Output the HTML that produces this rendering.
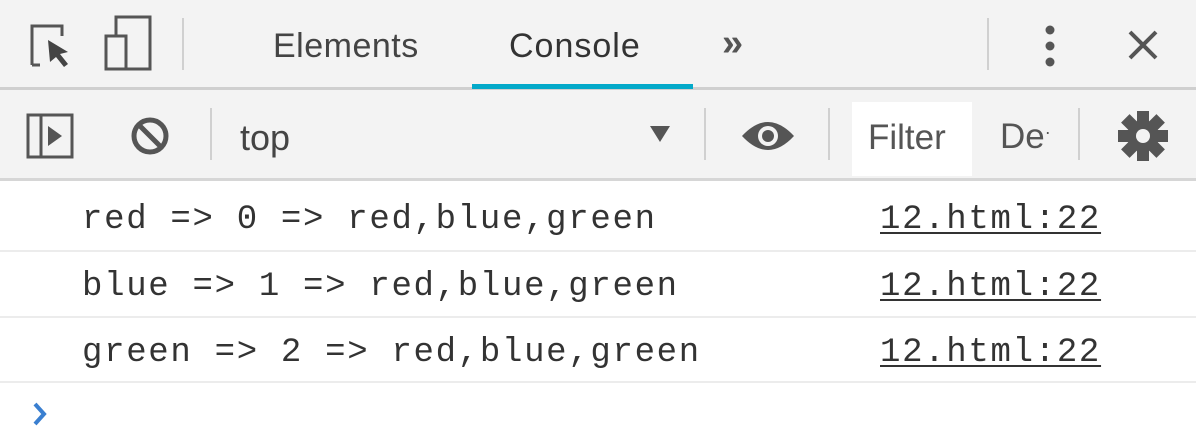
<!DOCTYPE html>
<html><head><meta charset="utf-8"><style>
html,body{margin:0;padding:0;width:1196px;height:441px;overflow:hidden;background:#fff;font-family:"Liberation Sans",sans-serif;}
.a{position:absolute;}
.tb{background:#f3f3f3;left:0;width:1196px;}
.sep{position:absolute;width:2px;background:#d0d0d0;}
.mono{font-family:"Liberation Mono",monospace;font-size:34px;letter-spacing:1.7px;color:#333;position:absolute;line-height:40px;}
.link{text-decoration:underline;text-decoration-thickness:2px;text-underline-offset:4px;}
.hr{position:absolute;left:0;width:1196px;height:2px;background:#ececec;}
</style></head><body>
<div class="a tb" style="top:0;height:87px;"></div>
<div class="a" style="top:87px;left:0;width:1196px;height:3px;background:#cfcfcf;"></div>
<div class="a tb" style="top:90px;height:88px;"></div>
<div class="a" style="top:178px;left:0;width:1196px;height:3px;background:#d6d6d6;"></div>

<svg class="a" style="left:28px;top:22px" width="60" height="50" viewBox="0 0 60 50">
<path d="M4 43 V4 H34 V14" fill="none" stroke="#555" stroke-width="3"/>
<path d="M4 43 H12" stroke="#555" stroke-width="3"/>
<path d="M20 18 L40 30 L32 32 L40 42 L36 45 L28 35 L22 40 Z" fill="#444"/>
</svg>
<svg class="a" style="left:102px;top:14px" width="52" height="58" viewBox="0 0 52 58">
<rect x="14" y="3" width="34" height="52" fill="none" stroke="#555" stroke-width="3"/>
<rect x="4" y="22" width="20" height="33" fill="#f3f3f3" stroke="#555" stroke-width="3"/>
</svg>
<div class="sep" style="left:182px;top:18px;height:52px;"></div>
<div class="a" style="left:273px;top:27px;font-size:34px;color:#444;letter-spacing:0.5px;">Elements</div>
<div class="a" style="left:509px;top:27px;font-size:34px;color:#333;letter-spacing:1px;">Console</div>
<div class="a" style="left:472px;top:84px;width:221px;height:5px;background:#03a9c9;"></div>
<div class="a" style="left:722px;top:22px;font-size:38px;color:#555;font-weight:bold;">»</div>
<div class="sep" style="left:987px;top:18px;height:52px;"></div>
<svg class="a" style="left:1040px;top:22px" width="20" height="48"><circle cx="10" cy="8" r="4.5" fill="#555"/><circle cx="10" cy="24" r="4.5" fill="#555"/><circle cx="10" cy="40" r="4.5" fill="#555"/></svg>
<svg class="a" style="left:1126px;top:28px" width="34" height="34"><path d="M4 4 L30 30 M30 4 L4 30" stroke="#555" stroke-width="4"/></svg>

<svg class="a" style="left:26px;top:113px" width="50" height="46" viewBox="0 0 50 46">
<rect x="2" y="2" width="44" height="42" fill="none" stroke="#555" stroke-width="3"/>
<path d="M15 2 V44" stroke="#555" stroke-width="3"/>
<path d="M22 13 L36 23 L22 33 Z" fill="#555"/>
</svg>
<svg class="a" style="left:128px;top:113px" width="44" height="46"><circle cx="22" cy="23" r="16" fill="none" stroke="#555" stroke-width="5"/><path d="M11 12 L33 34" stroke="#555" stroke-width="5"/></svg>
<div class="sep" style="left:210px;top:108px;height:52px;"></div>
<div class="a" style="left:240px;top:117px;font-size:36px;color:#444;">top</div>
<svg class="a" style="left:648px;top:123px" width="24" height="22"><path d="M2 3 L22 3 L12 19 Z" fill="#555"/></svg>
<div class="sep" style="left:704px;top:108px;height:52px;"></div>
<svg class="a" style="left:738px;top:114px" width="60" height="44" viewBox="0 0 60 44"><path d="M4 22 Q30 -6 56 22 Q30 50 4 22 Z" fill="#555"/><circle cx="30" cy="22" r="10" fill="#f3f3f3"/><circle cx="30" cy="22" r="6" fill="#555"/></svg>
<div class="sep" style="left:828px;top:108px;height:52px;"></div>
<div class="a" style="left:852px;top:102px;width:120px;height:74px;background:#fff;"></div>
<div class="a" style="left:868px;top:118px;font-size:35px;color:#555;">Filter</div>
<div class="a" style="left:1000px;top:117px;font-size:35px;color:#555;">De<span style="font-size:18px;vertical-align:10px">·</span></div>
<div class="sep" style="left:1078px;top:108px;height:52px;"></div>
<svg class="a" style="left:1116px;top:110px" width="54" height="52" viewBox="-27 -26 54 52">
<g fill="#555"><circle r="16"/>
<rect x="-6" y="-25" width="12" height="50"/><rect x="-6" y="-25" width="12" height="50" transform="rotate(45)"/><rect x="-6" y="-25" width="12" height="50" transform="rotate(90)"/><rect x="-6" y="-25" width="12" height="50" transform="rotate(135)"/></g>
<circle r="7" fill="#f3f3f3"/></svg>

<div class="mono" style="left:82px;top:200px;">red =&gt; 0 =&gt; red,blue,green</div>
<div class="mono link" style="left:880px;top:200px;">12.html:22</div>
<div class="hr" style="top:250px;"></div>
<div class="mono" style="left:82px;top:267px;">blue =&gt; 1 =&gt; red,blue,green</div>
<div class="mono link" style="left:880px;top:267px;">12.html:22</div>
<div class="hr" style="top:316px;"></div>
<div class="mono" style="left:82px;top:333px;">green =&gt; 2 =&gt; red,blue,green</div>
<div class="mono link" style="left:880px;top:333px;">12.html:22</div>
<div class="hr" style="top:381px;"></div>
<svg class="a" style="left:30px;top:400px" width="20" height="28"><path d="M5 4 L14 14 L5 24" fill="none" stroke="#3a7fd0" stroke-width="4"/></svg>
</body></html>
